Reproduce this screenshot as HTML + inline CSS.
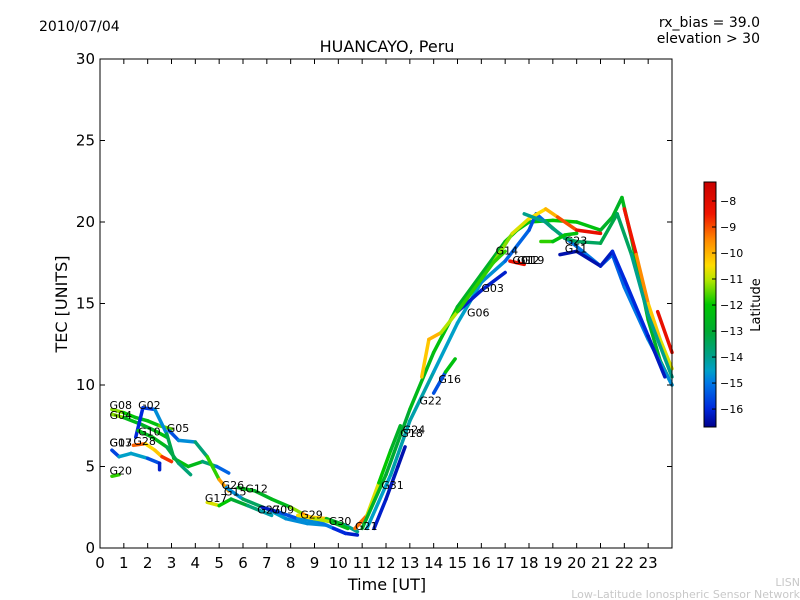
<!DOCTYPE html>
<html><head><meta charset="utf-8"><style>
body{margin:0;background:#fff;}
svg{display:block;font-family:"DejaVu Sans","Liberation Sans",sans-serif;}
</style></head><body>
<svg id="c" width="800" height="600" viewBox="0 0 800 600">
<defs><linearGradient id="jet" x1="0" y1="1" x2="0" y2="0">
<stop offset="0" stop-color="rgb(0,0,140)"/><stop offset="0.074" stop-color="rgb(0,40,220)"/><stop offset="0.18" stop-color="rgb(0,120,230)"/><stop offset="0.23" stop-color="rgb(0,160,200)"/><stop offset="0.287" stop-color="rgb(0,160,140)"/><stop offset="0.39" stop-color="rgb(0,170,50)"/><stop offset="0.5" stop-color="rgb(0,200,0)"/><stop offset="0.6" stop-color="rgb(180,230,0)"/><stop offset="0.66" stop-color="rgb(255,220,0)"/><stop offset="0.76" stop-color="rgb(255,140,0)"/><stop offset="0.87" stop-color="rgb(240,20,0)"/><stop offset="1" stop-color="rgb(200,0,0)"/></linearGradient></defs>
<text x="39" y="31" font-size="14">2010/07/04</text>
<text x="760" y="27" font-size="14" text-anchor="end">rx_bias = 39.0</text>
<text x="760" y="43" font-size="14" text-anchor="end">elevation &gt; 30</text>
<text x="387" y="52" font-size="16" text-anchor="middle">HUANCAYO, Peru</text>
<text x="387" y="590" font-size="16" text-anchor="middle">Time [UT]</text>
<text transform="translate(67,304) rotate(-90)" font-size="16" text-anchor="middle">TEC [UNITS]</text>
<g id="tracks"></g>
<g id="labels"></g>
<rect x="100" y="59" width="572" height="489" fill="none" stroke="#000"/>
<g id="axes"></g>
<rect x="704" y="182" width="12" height="245" fill="url(#jet)" stroke="#000"/>
<g id="cbticks"></g>
<text transform="translate(760,305) rotate(-90)" font-size="13" text-anchor="middle">Latitude</text>
<text x="800" y="586" font-size="11" fill="#c8c8c8" text-anchor="end">LISN</text>
<text x="800" y="598" font-size="11" fill="#c8c8c8" text-anchor="end">Low-Latitude Ionospheric Sensor Network</text>
</svg>
<script>
const xTicks=[0,1,2,3,4,5,6,7,8,9,10,11,12,13,14,15,16,17,18,19,20,21,22,23];
const yTicks=[0,5,10,15,20,25,30];
const cbTicks=[-8,-9,-10,-11,-12,-13,-14,-15,-16];
// tracks: arrays of [hour, TEC, latitude]
const trackG08=[[0.5,8.5,-11],[1,8.3,-11.5],[1.5,8.0,-12.5],[2,7.8,-12.5],[2.5,7.5,-12],[3,7.3,-11]];
const trackG04=[[0.5,8.2,-10.5],[1,8.0,-12],[1.7,7.6,-13],[2.3,7.2,-12.5],[2.8,6.8,-12]];
const trackG02=[[1.5,6.8,-16],[1.8,8.6,-16],[2.3,8.5,-15.5],[2.8,7.0,-14],[3.1,5.5,-12.5],[3.7,5.0,-12],[4.3,5.3,-13],[4.9,5.0,-14.5],[5.4,4.6,-16]];
const trackG05=[[2.9,7.2,-16],[3.3,6.6,-15],[4,6.5,-14.5],[4.5,5.6,-13],[5,4.2,-10.5],[5.4,3.5,-9]];
const trackG13=[[0.5,6.0,-16.3],[0.8,5.6,-15],[1.3,5.8,-14],[2,5.5,-15],[2.5,5.2,-16],[2.5,4.8,-16.3]];
const trackG28=[[1.4,6.3,-8.3],[1.9,6.4,-10],[2.3,6.0,-11],[2.6,5.6,-9.5],[3,5.3,-8]];
const trackG10=[[1.6,7.2,-13],[2.2,6.8,-12],[2.8,6.2,-13],[3.3,5.2,-13.5],[3.8,4.5,-14]];
const trackG20=[[0.5,4.4,-12],[0.8,4.5,-11.5]];
const trackG17=[[4.5,2.8,-10],[5,2.6,-11.5],[5.5,3.0,-12.5],[6.2,2.6,-13.5],[6.7,2.3,-14],[7.2,2.0,-14.5]];
const trackG15=[[5.3,3.7,-16.5],[6,3.0,-13],[7,2.4,-14],[7.8,1.8,-15],[8.7,1.5,-14.5],[9.5,1.4,-15],[10.3,0.9,-16],[10.8,0.8,-16.3]];
const trackG12=[[5.8,3.7,-12.5],[6.5,3.5,-12.5],[7.2,3.0,-13],[8,2.5,-12],[8.5,2.1,-10.5],[8.8,1.9,-8.5],[9.5,1.8,-12],[10.3,1.4,-13.5],[10.8,1.0,-14.5]];
const trackG27=[[6.8,2.5,-16.5],[7.5,2.2,-16],[8.3,1.8,-15],[9.2,1.6,-14.5],[9.8,1.2,-15.5],[10.3,0.9,-16.5]];
const trackG29=[[8.3,2.0,-11],[9,1.8,-10],[9.7,1.6,-12],[10.4,1.2,-13]];
const trackG21=[[10.7,1.2,-8.5],[11.2,2.0,-10],[11.7,4.0,-11.5],[12.2,6.0,-12.5],[12.6,7.5,-13]];
const trackMainA=[[11,1.2,-12.5],[12,4.5,-13],[13,8.5,-13],[14,12,-12],[15,14.8,-12.5],[16,16.8,-13],[17,18.8,-12.5],[17.5,19.5,-12],[18,20,-12.5],[19,20.1,-12],[20,20,-12],[21,19.5,-12.5],[21.5,20.3,-13],[21.9,21.5,-12.5],[22.3,19,-12.5],[23,14,-12.5],[23.5,11.5,-13],[24,10,-13]];
const trackMainB=[[11.2,1.2,-14.5],[12.2,4.5,-14.5],[13,7.8,-14],[14,10.8,-14.5],[15,13.8,-14.5],[16,16.3,-14.5],[17,17.6,-15],[18,19.5,-15.5],[18.3,20.5,-15.5],[19,19.6,-15],[20,18.5,-15],[21,17.3,-15],[21.5,18,-15.5],[22,16,-15],[23,12.8,-15],[24,10,-14.5]];
const trackG31=[[11.5,1.2,-16],[12,3.0,-16.3],[12.5,5.0,-16.3],[12.8,6.2,-16.5]];
const trackG06=[[15,14.5,-16.3],[16,15.8,-16],[17,16.9,-16.3]];
const trackG11=[[19.3,18,-16.5],[20,18.2,-16.3],[21,17.3,-16.5],[21.5,18.2,-16],[22,16.5,-16],[23,13,-16],[23.7,10.5,-16.5]];
const trackMainD=[[13.5,10.5,-11],[13.8,12.8,-9.5],[14.3,13.2,-10.5],[15,14.5,-11.5],[16,16.5,-12],[16.5,17.5,-11.5],[17.3,19.3,-11],[18,20.2,-10.5],[18.7,20.8,-10.5],[19.2,20.3,-9.5],[20,19.5,-8.5],[21,19.3,-8]];
const trackG19=[[22,20.8,-8],[22.5,18,-9],[23,15,-10],[23.5,12.8,-10.5],[24,11,-11]];
const trackG01=[[23.4,14.5,-8],[24,12,-8.5]];
const trackMainF=[[17.8,20.5,-14],[18.7,20,-14],[19.5,19,-13.5],[20,18.8,-13.5],[21,18.7,-13.5],[21.7,20.5,-13],[22.3,18,-14],[23,14.3,-14],[24,10.5,-14]];
const trackG16=[[14,9.5,-15],[14.5,10.8,-16],[14.9,11.6,-8.5]];
const trackG14=[[16.5,17.5,-12],[17,18.2,-11.5]];
const trackG03red=[[17.2,17.6,-8.5],[17.8,17.4,-8]];
const trackG23=[[18.5,18.8,-11.5],[19,18.8,-12],[19.5,19.2,-12.5],[20,19.3,-12]];
const tracks=[trackG08,trackG04,trackG02,trackG05,trackG13,trackG28,trackG10,trackG20,trackG17,trackG15,trackG12,trackG27,trackG29,trackG21,trackMainA,trackMainB,trackG31,trackG06,trackG11,trackMainD,trackG19,trackG01,trackMainF,trackG16,trackG14,trackG03red,trackG23];
const satNames=["G08","G04","G02","G10","G05","G13","G07","G28","G20","G26","G15","G12","G17","G27","G09","G29","G30","G21","G31","G18","G24","G22","G16","G06","G03","G14","G01","G12","G19","G23","G11"];
const satHours=[0.4,0.4,1.6,1.6,2.8,0.4,0.4,1.4,0.4,5.1,5.2,6.1,4.4,6.6,7.2,8.4,9.6,10.7,11.8,12.6,12.7,13.4,14.2,15.4,16.0,16.6,17.3,17.5,17.7,19.5,19.5];
const satTEC=[8.7,8.1,8.7,7.1,7.3,6.4,6.4,6.5,4.7,3.8,3.4,3.6,3.0,2.3,2.3,2.0,1.6,1.3,3.8,7.0,7.2,9.0,10.3,14.4,15.9,18.2,17.6,17.6,17.6,18.8,18.3];
const X=h=>100+h*572/24, Y=v=>548-v*489/30, C=l=>182+(-7.27-l)*245/9.42;
const cmapLat=[-16.7,-16,-15,-14.5,-14,-13,-12,-11,-10.5,-9.5,-8.5,-7.3];
const cmapRGB=[[0,0,140],[0,40,220],[0,120,230],[0,160,200],[0,160,140],[0,170,50],[0,200,0],[180,230,0],[255,220,0],[255,140,0],[240,20,0],[200,0,0]];
function jet(l){l=Math.max(-16.7,Math.min(-7.3,l));
 for(let i=0;i<cmapLat.length-1;i++){if(l<=cmapLat[i+1]){const f=(l-cmapLat[i])/(cmapLat[i+1]-cmapLat[i]);
  const c=cmapRGB[i].map((v,k)=>Math.round(v+(cmapRGB[i+1][k]-v)*f));return `rgb(${c[0]},${c[1]},${c[2]})`;}}
 return 'rgb(200,0,0)';}
const ns="http://www.w3.org/2000/svg";
const g=document.getElementById('tracks');
tracks.forEach(tr=>{for(let i=0;i<tr.length-1;i++){const a=tr[i],b=tr[i+1];
 const ln=document.createElementNS(ns,'line');
 
 
 ln.setAttribute('x1',X(a[0]));ln.setAttribute('y1',Y(a[1]));ln.setAttribute('x2',X(b[0]));ln.setAttribute('y2',Y(b[1]));
 ln.setAttribute('stroke',jet((a[2]+b[2])/2));ln.setAttribute('stroke-width','3.5');ln.setAttribute('stroke-linecap','round');
 g.appendChild(ln);}});
const lg=document.getElementById('labels');
satNames.forEach((n,i)=>{const t=document.createElementNS(ns,'text');
 
 
 t.setAttribute('x',X(satHours[i]));t.setAttribute('y',Y(satTEC[i]));t.setAttribute('font-size','11');t.setAttribute('dominant-baseline','middle');
 t.textContent=n;lg.appendChild(t);});
const ax=document.getElementById('axes');
function add(tag,attrs,txt){const e=document.createElementNS(ns,tag);for(const k in attrs)e.setAttribute(k,attrs[k]);if(txt!==undefined)e.textContent=txt;ax.appendChild(e);return e;}
xTicks.forEach(h=>{const x=X(h);
 const a=add('line',{x1:x,x2:x,y1:548,y2:543,stroke:'#000'});
 const b=add('line',{x1:x,x2:x,y1:59,y2:64,stroke:'#000'});
 const t=add('text',{x:x,y:568,'font-size':15,'text-anchor':'middle'},h);});
yTicks.forEach(v=>{const y=Y(v);
 const a=add('line',{x1:100,x2:105,y1:y,y2:y,stroke:'#000'});
 const b=add('line',{x1:667,x2:672,y1:y,y2:y,stroke:'#000'});
 const t=add('text',{x:95,y:y+5,'font-size':15,'text-anchor':'end'},v);});
const cb=document.getElementById('cbticks');
cbTicks.forEach(l=>{const y=C(l);
 const a=document.createElementNS(ns,'line');
 
 
 a.setAttribute('x1',712);a.setAttribute('x2',716);a.setAttribute('y1',y);a.setAttribute('y2',y);a.setAttribute('stroke','#000');cb.appendChild(a);
 const t=document.createElementNS(ns,'text');
 
 
 t.setAttribute('x',720);t.setAttribute('y',y+4);t.setAttribute('font-size','11');t.textContent='\u2212'+(-l);cb.appendChild(t);});
</script>
</body></html>
